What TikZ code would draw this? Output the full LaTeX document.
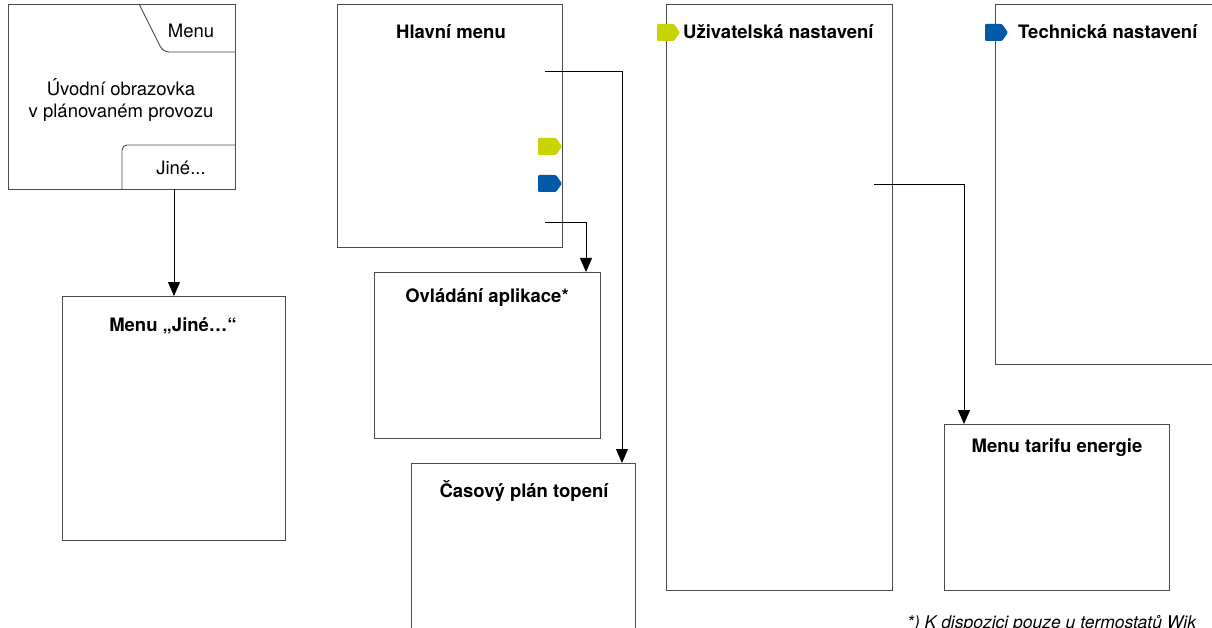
\documentclass[tikz,border=0pt]{standalone}
\usepackage{fontspec}
\setmainfont{TeX Gyre Heros}
\usetikzlibrary{arrows.meta}
\usetikzlibrary{calc}
\usetikzlibrary{positioning}

\definecolor{flaggreen}{HTML}{C8D400}
\definecolor{flagblue}{HTML}{005AA9}
\definecolor{boxgray}{HTML}{4A4A4A}

\tikzset{
  screen/.style={draw=boxgray,line width=0.9pt},
  title/.style={font=\fontsize{18.5}{22}\selectfont\bfseries,inner sep=0pt},
  plain/.style={font=\fontsize{18.5}{22}\selectfont,inner sep=0pt,align=center},
  link/.style={draw=black,line width=0.9pt,-{Triangle[length=14pt,width=12pt]}},
  flag/.style={line width=0pt}
}

\begin{document}
\begin{tikzpicture}[x=1pt,y=-1pt,line cap=butt,line join=miter]
        \useasboundingbox (0,0) rectangle (1212,628);
        \clip (0,0) rectangle (1212,628);
        \fill[white] (0,0) rectangle (1212,628);
        % 
        \draw[screen] (8,4) rectangle (235,189);
        \draw[screen,rounded corners=6] (139,4) -- (163,52) -- (235,52);
        \draw[screen,rounded corners=5] (122,189) |- (235,145);
        \node[plain] (menutab) at (191,31) {Menu};
        \node[plain] (start) at (121,100) {Úvodní obrazovka\\v plánovaném provozu};
        \node[plain] (jine) at (181,168) {Jiné...};
        \coordinate (jineout) at (174,189);
        % 
        \draw[screen] (62,296) rectangle (285,540);
        \node[title] (jinemenu) at (173,326) {Menu „Jiné…“};
        \coordinate (jinemenuin) at (174,296);
        % 
        \draw[screen] (337,4) rectangle (562,247);
        \node[title] (hlavni) at (451,32) {Hlavní menu};
        \coordinate (hlavniplan) at (545,71);
        \coordinate (hlavniapp) at (545,222);
        \fill[flaggreen,rounded corners=1] (538,138) -- (556,138) -- (562,146.5) -- (556,155) -- (538,155) -- cycle;
        \fill[flagblue,rounded corners=1] (538,175) -- (556,175) -- (562,183.5) -- (556,192) -- (538,192) -- cycle;
        % 
        \draw[screen] (374,272) rectangle (600,438);
        \node[title] (aplikace) at (487,298) {Ovládání aplikace*};
        \coordinate (aplikacein) at (586,272);
        % 
        \draw[screen] (411,463) rectangle (635,640);
        \node[title] (plan) at (524,491) {Časový plán topení};
        \coordinate (planin) at (622,463);
        % 
        \draw[screen] (666,4) rectangle (892,590);
        \fill[flaggreen,rounded corners=1] (657,24) -- (674,24) -- (680,32.5) -- (674,41) -- (657,41) -- cycle;
        \node[title,anchor=west] (uziv) at (683,32) {Uživatelská nastavení};
        \coordinate (uzivtarif) at (874,184);
        % 
        \draw[screen] (944,424) rectangle (1169,590);
        \node[title] (tarif) at (1057,448) {Menu tarifu energie};
        \coordinate (tarifin) at (964,424);
        % 
        \draw[screen] (995,4) rectangle (1230,364);
        \fill[flagblue,rounded corners=1] (985,24) -- (1002,24) -- (1008,32.5) -- (1002,41) -- (985,41) -- cycle;
        \node[title,anchor=west] (tech) at (1018,32) {Technická nastavení};
        % 
        \node[font=\fontsize{17.5}{20}\selectfont\itshape,inner sep=0pt,anchor=west] (note) at (907,624) {*) K dispozici pouze u termostatů Wik};
        % 
        \draw[link] (jineout) -- (jinemenuin);
        \draw[link] (hlavniplan) -| (planin);
        \draw[link] (hlavniapp) -| (aplikacein);
        \draw[link] (uzivtarif) -| (tarifin);
      \end{tikzpicture}
\end{document}
